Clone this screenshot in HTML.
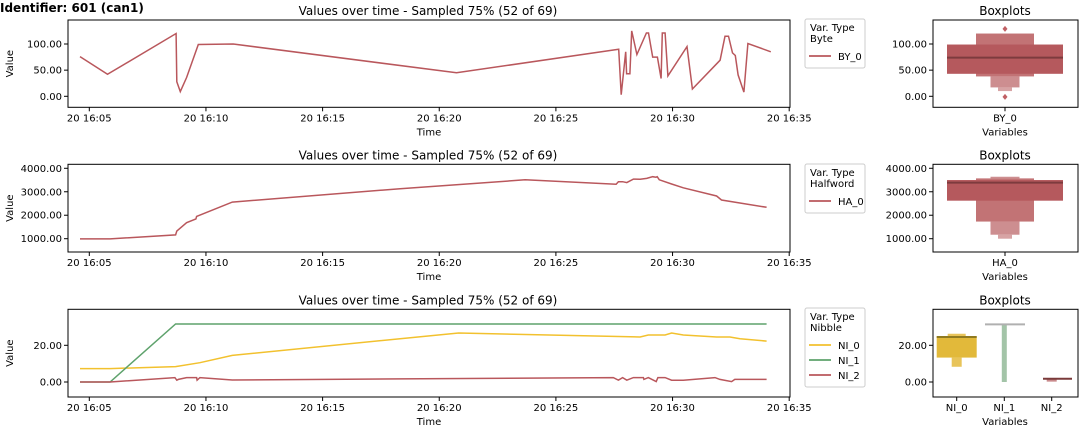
<!DOCTYPE html>
<html><head><meta charset="utf-8"><style>
body{margin:0;background:#fff;}
svg{display:block;font-family:"DejaVu Sans","Liberation Sans",sans-serif;}
</style></head><body>
<svg id="c" width="1080" height="432" viewBox="0 0 1080 432" xmlns="http://www.w3.org/2000/svg">
<text x="0" y="12" font-size="12" font-weight="bold" fill="#000">Identifier: 601 (can1)</text>
</svg>
<script>
// ---- data (minutes after 16:00, value) ----
const by0T=[4.60,5.78,8.72,8.75,8.90,9.17,9.67,11.17,20.74,27.69,27.80,27.99,28.03,28.17,28.25,28.47,28.88,28.97,29.15,29.35,29.51,29.56,29.68,29.80,30.62,30.85,32.04,32.25,32.40,32.57,32.69,32.81,33.06,33.23,34.21];
const by0V=[76,42,120,28,9,36,99,100,45,90,3,85,43,43,125,80,121,121,75,75,34,121,121,39,95,14,69,115,115,83,78,41,8,101,85];
const ha0T=[4.60,5.89,8.70,8.75,9.17,9.57,9.60,11.13,18.32,23.68,27.58,27.68,27.86,28.04,28.32,28.61,28.89,29.15,29.29,29.34,29.43,29.96,30.46,31.89,32.10,34.03];
const ha0V=[990,990,1160,1330,1680,1840,1950,2560,3130,3510,3320,3430,3430,3390,3540,3530,3570,3640,3620,3640,3510,3330,3170,2820,2650,2340];
const ni0T=[4.60,5.89,8.70,9.74,11.13,18.32,20.83,28.61,28.96,29.68,29.96,30.46,31.89,32.46,32.89,34.03];
const ni0V=[7.3,7.3,8.4,10.5,14.5,23.6,26.7,24.5,25.6,25.6,26.7,25.6,24.5,24.5,23.6,22.3];
const ni1T=[4.60,5.89,8.70,34.03];
const ni1V=[0,0,31.6,31.6];
const ni2T=[4.60,5.89,8.67,8.75,8.82,9.17,9.60,9.62,9.74,11.13,18.32,27.46,27.68,27.86,28.04,28.32,28.75,28.77,28.96,29.30,29.37,29.68,29.96,30.46,31.82,32.03,32.53,32.67,34.03];
const ni2V=[0,0,2.4,1.0,1.4,2.4,2.4,1.0,2.4,1.1,1.7,2.4,1.0,2.4,1.0,2.4,2.4,1.4,2.4,0.2,2.4,2.4,1.0,1.0,2.4,1.4,0.2,1.4,1.4];
const xTickMin=[5,10,15,20,25,30,35];
const xTickLbl=["20 16:05","20 16:10","20 16:15","20 16:20","20 16:25","20 16:30","20 16:35"];
// boxen levels [low, high]
const byBox=[[43,99],[38,120],[17,38],[10,17]];
const byMed=[74];
const byOut=[129,-1];
const haBox=[[2620,3500],[1730,3570],[1170,1730],[1000,1170],[3570,3640]];
const haMed=[3390];
const ni0Box=[[13.3,24.9],[8.3,13.3],[24.9,26.3]];
const ni0Med=[24.5];
const ni1Range=[0,31.4];
const ni1Med=[31.4];
const ni2Box=[[0.2,1.8]];
const ni2Med=[1.8];

const S=document.getElementById('c');
const NS='http://www.w3.org/2000/svg';
function mk(tag,at,txt,parent){const e=document.createElementNS(NS,tag);for(const k in at)e.setAttribute(k,at[k]);if(txt!==undefined)e.textContent=txt;(parent||S).appendChild(e);return e;}
const X=m=>89.3+(m-5)*23.33;

function panel(i,top,bottom,yfn,yticks,ylbls,series,legTitle,legTop){
  const g=mk('g',{});
  
  
  const t=mk('text',{x:428,y:top-5,'font-size':12,'text-anchor':'middle'},'Values over time - Sampled 75% (52 of 69)',g);
  
  series.forEach(s=>{
    const pts=s.t.map((m,j)=>X(m).toFixed(1)+','+yfn(s.v[j]).toFixed(1)).join(' ');
    const p=mk('polyline',{points:pts,fill:'none',stroke:s.c,'stroke-width':1.5},undefined,g);
    
    
  });
  const ax=mk('rect',{x:68,y:top,width:722,height:bottom-top,fill:'none',stroke:'#000','stroke-width':1},undefined,g);
  
  xTickMin.forEach((m,j)=>{
    mk('line',{x1:X(m),x2:X(m),y1:bottom,y2:bottom+4,stroke:'#000'},undefined,g);
    const tl=mk('text',{x:X(m),y:bottom+14,'font-size':10,'text-anchor':'middle'},xTickLbl[j],g);
    
  });
  yticks.forEach((v,j)=>{
    mk('line',{x1:64,x2:68,y1:yfn(v),y2:yfn(v),stroke:'#000'},undefined,g);
    const tl=mk('text',{x:62,y:yfn(v)+3.5,'font-size':10,'text-anchor':'end'},ylbls[j],g);
    
  });
  const xl=mk('text',{x:429,y:bottom+28,'font-size':10,'text-anchor':'middle'},'Time',g);
  
  const yc=(top+bottom)/2;
  const yl=mk('text',{x:13,y:yc,'font-size':10,'text-anchor':'middle',transform:`rotate(-90 13 ${yc})`},'Value',g);
  
  // legend
  const lh=34+series.length*15;
  const lg=mk('g',{},undefined,g);
  
  mk('rect',{x:805,y:legTop,width:60,height:lh,rx:2,fill:'#fff',stroke:'#ccc'},undefined,lg);
  mk('text',{x:810,y:legTop+12,'font-size':10},'Var. Type',lg);
  mk('text',{x:810,y:legTop+23,'font-size':10},legTitle,lg);
  series.forEach((s,j)=>{
    const yy=legTop+37+j*15;
    const e=mk('g',{},undefined,lg);
    
    mk('line',{x1:809,x2:831,y1:yy,y2:yy,stroke:s.c,'stroke-width':1.8},undefined,e);
    mk('text',{x:838,y:yy+4,'font-size':10},s.n,e);
  });
}
function boxAxes(i,top,bottom,yfn,yticks,ylbls,cats,cx){
  const g=mk('g',{});
  
  const t=mk('text',{x:1005,y:top-5,'font-size':12,'text-anchor':'middle'},'Boxplots',g);
  
  yticks.forEach((v,j)=>{
    mk('line',{x1:929,x2:933,y1:yfn(v),y2:yfn(v),stroke:'#000'},undefined,g);
    const tl=mk('text',{x:927,y:yfn(v)+3.5,'font-size':10,'text-anchor':'end'},ylbls[j],g);
    
  });
  cats.forEach((c,j)=>{
    mk('line',{x1:cx[j],x2:cx[j],y1:bottom,y2:bottom+4,stroke:'#000'},undefined,g);
    const tl=mk('text',{x:cx[j],y:bottom+14,'font-size':10,'text-anchor':'middle'},c,g);
    
  });
  const xl=mk('text',{x:1005,y:bottom+28,'font-size':10,'text-anchor':'middle'},'Variables',g);
  
  return g;
}
function frame(top,bottom){const r=mk('rect',{x:933,y:top,width:145,height:bottom-top,fill:'none',stroke:'#000'});}
function boxes(g,cx,arr,widths,cols,name){
  arr.forEach((b,j)=>{
    const r=mk('rect',{x:cx-widths[j]/2,y:Math.min(b.y1,b.y2),width:widths[j],height:Math.max(1,Math.abs(b.y1-b.y2)),fill:cols[j]},undefined,g);
    
  });
}
const RED='#b9575c';
// Panel 1
const y1=v=>96.3-v*0.523;
panel(1,20,107.3,y1,[0,50,100],['0.00','50.00','100.00'],[{t:by0T,v:by0V,c:RED,n:'BY_0'}],'Byte',19);
let g=boxAxes(1,20,107.3,y1,[0,50,100],['0.00','50.00','100.00'],['BY_0'],[1005]);
boxes(g,1005,[byBox[3],byBox[2],byBox[1],byBox[0]].map(b=>({y1:y1(b[0]),y2:y1(b[1])})),[14,29,58,116],['#d7a3a4','#cd8e90','#c27375','#b5595d'],'by0');
byMed.forEach(m=>{const l=mk('line',{x1:947,x2:1063,y1:y1(m),y2:y1(m),stroke:'#7d3b3e','stroke-width':2},undefined,g);});
byOut.forEach(v=>{const d=mk('path',{d:`M1005 ${y1(v)-3}l2.5 3l-2.5 3l-2.5-3z`,fill:'#c06064'},undefined,g);});
frame(20,107.3);
// Panel 2
const y2=v=>238.7-(v-1000)*0.02347;
panel(2,164.3,252,y2,[1000,2000,3000,4000],['1000.00','2000.00','3000.00','4000.00'],[{t:ha0T,v:ha0V,c:RED,n:'HA_0'}],'Halfword',164);
g=boxAxes(2,164.3,252,y2,[1000,2000,3000,4000],['1000.00','2000.00','3000.00','4000.00'],['HA_0'],[1005]);
boxes(g,1005,[haBox[3],haBox[2],haBox[4],haBox[1],haBox[0]].map(b=>({y1:y2(b[0]),y2:y2(b[1])})),[14,29,29,58,116],['#d7a3a4','#cd8e90','#cd8e90','#c27375','#b5595d'],'ha0');
haMed.forEach(m=>{const l=mk('line',{x1:947,x2:1063,y1:y2(m),y2:y2(m),stroke:'#7d3b3e','stroke-width':2},undefined,g);});
frame(164.3,252);
// Panel 3
const y3=v=>382-v*1.835;
panel(3,309.3,397,y3,[0,20],['0.00','20.00'],[{t:ni0T,v:ni0V,c:'#f2c12e',n:'NI_0'},{t:ni1T,v:ni1V,c:'#5ea26c',n:'NI_1'},{t:ni2T,v:ni2V,c:RED,n:'NI_2'}],'Nibble',308);
const cx3=[956.7,1004.3,1051.7];
g=boxAxes(3,309.3,397,y3,[0,20],['0.00','20.00'],['NI_0','NI_1','NI_2'],cx3);
boxes(g,cx3[0],[ni0Box[1],ni0Box[2],ni0Box[0]].map(b=>({y1:y3(b[0]),y2:y3(b[1])})),[10,18,40],['#e8c45a','#e8c45a','#e2b93a'],'ni0');
ni0Med.forEach(m=>{const l=mk('line',{x1:936.7,x2:976.7,y1:y3(m),y2:y3(m),stroke:'#8f7a20','stroke-width':2},undefined,g);});
{const r=mk('rect',{x:cx3[1]-2.5,y:y3(ni1Range[1]),width:5,height:y3(ni1Range[0])-y3(ni1Range[1]),fill:'#a3c4a8'},undefined,g);}
ni1Med.forEach(m=>{const l=mk('line',{x1:985,x2:1025,y1:y3(m),y2:y3(m),stroke:'#b0b0b0','stroke-width':2},undefined,g);});
boxes(g,cx3[2],ni2Box.map(b=>({y1:y3(b[0]),y2:y3(b[1])})),[10],['#c98a8c'],'ni2');
ni2Med.forEach(m=>{const l=mk('line',{x1:1043,x2:1072,y1:y3(m),y2:y3(m),stroke:'#7a3a3a','stroke-width':2},undefined,g);});
frame(309.3,397);
</script>
</body></html>
